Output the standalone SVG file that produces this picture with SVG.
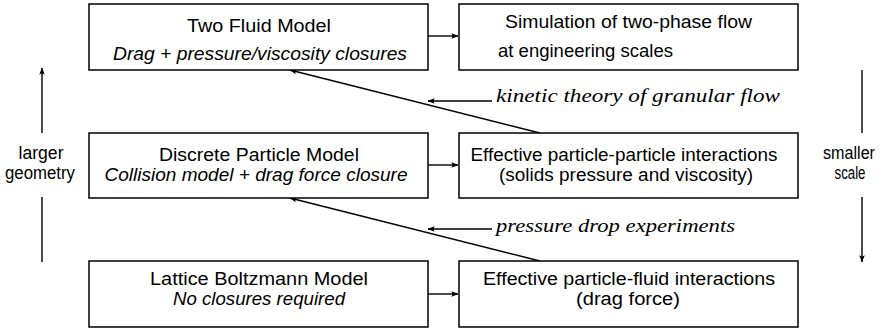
<svg xmlns="http://www.w3.org/2000/svg" width="890" height="331" viewBox="0 0 890 331">
  <style>
    .box { fill: #fff; stroke: #000; stroke-width: 1.5; }
    .t { font-family: "Liberation Sans", Arial, sans-serif; font-size: 17.5px; fill: #000; }
    .c { text-anchor: middle; }
    .i { font-style: italic; }
    .s { font-family: "Liberation Serif", "Times New Roman", serif; font-style: italic; font-size: 19px; fill: #000; }
    .ln { stroke: #000; stroke-width: 1.4; fill: none; marker-end: url(#ah); }
    .plain { stroke: #000; stroke-width: 1.4; fill: none; }
  </style>
  <defs>
    <marker id="ah" viewBox="0 0 10 8" refX="9.5" refY="4" markerWidth="7" markerHeight="5.6" markerUnits="userSpaceOnUse" orient="auto">
      <path d="M0,0 Q3,4 0,8 L10,4 Z" fill="#000"/>
    </marker>
  </defs>
  <rect width="890" height="331" fill="#fff"/>

  <g id="connectors">
    <line class="ln" x1="428" y1="36" x2="458" y2="36"/>
    <line class="ln" x1="428" y1="165" x2="458" y2="165"/>
    <line class="ln" x1="428" y1="294" x2="458" y2="294"/>
    <line class="ln" x1="540" y1="133" x2="290" y2="70"/>
    <line class="ln" x1="540" y1="261" x2="290" y2="198"/>
    <line class="ln" x1="492" y1="101" x2="428" y2="101"/>
    <line class="ln" x1="492" y1="229" x2="428" y2="229"/>
    <line class="ln" x1="42" y1="133" x2="42" y2="68"/>
    <line class="plain" x1="42" y1="197" x2="42" y2="262"/>
    <line class="plain" x1="862" y1="70" x2="862" y2="133"/>
    <line class="ln" x1="862" y1="197" x2="862" y2="262"/>
  </g>

  <g id="two-fluid-model">
    <rect class="box" x="89" y="4" width="339" height="66"/>
    <text class="t c" x="259" y="32" textLength="144" lengthAdjust="spacingAndGlyphs">Two Fluid Model</text>
    <text class="t c i" x="260" y="60" textLength="294" lengthAdjust="spacingAndGlyphs">Drag + pressure/viscosity closures</text>
  </g>

  <g id="simulation">
    <rect class="box" x="459" y="4" width="339" height="66"/>
    <text class="t" x="505" y="28" textLength="247" lengthAdjust="spacingAndGlyphs">Simulation of two-phase flow</text>
    <text class="t" x="498" y="57" textLength="175" lengthAdjust="spacingAndGlyphs">at engineering scales</text>
  </g>

  <g id="discrete-particle-model">
    <rect class="box" x="89" y="133" width="339" height="65"/>
    <text class="t c" x="259" y="161" textLength="200" lengthAdjust="spacingAndGlyphs">Discrete Particle Model</text>
    <text class="t c i" x="256" y="181" textLength="303" lengthAdjust="spacingAndGlyphs">Collision model + drag force closure</text>
  </g>

  <g id="particle-particle">
    <rect class="box" x="459" y="133" width="339" height="65"/>
    <text class="t c" x="624" y="161" textLength="307" lengthAdjust="spacingAndGlyphs">Effective particle-particle interactions</text>
    <text class="t c" x="626" y="181" textLength="254" lengthAdjust="spacingAndGlyphs">(solids pressure and viscosity)</text>
  </g>

  <g id="lattice-boltzmann-model">
    <rect class="box" x="89" y="261" width="339" height="66"/>
    <text class="t c" x="259" y="285" textLength="218" lengthAdjust="spacingAndGlyphs">Lattice Boltzmann Model</text>
    <text class="t c i" x="259" y="305" textLength="172" lengthAdjust="spacingAndGlyphs">No closures required</text>
  </g>

  <g id="particle-fluid">
    <rect class="box" x="459" y="261" width="339" height="66"/>
    <text class="t c" x="629" y="285" textLength="292" lengthAdjust="spacingAndGlyphs">Effective particle-fluid interactions</text>
    <text class="t c" x="628" y="305" textLength="104" lengthAdjust="spacingAndGlyphs">(drag force)</text>
  </g>

  <g id="labels">
    <text class="s" x="496" y="102" textLength="284" lengthAdjust="spacingAndGlyphs">kinetic theory of granular flow</text>
    <text class="s" x="496" y="232" textLength="239" lengthAdjust="spacingAndGlyphs">pressure drop experiments</text>
    <text class="t c" x="41" y="159" textLength="45" lengthAdjust="spacingAndGlyphs">larger</text>
    <text class="t c" x="40" y="179" textLength="70" lengthAdjust="spacingAndGlyphs">geometry</text>
    <text class="t c" x="849" y="159" textLength="52" lengthAdjust="spacingAndGlyphs">smaller</text>
    <text class="t c" x="850" y="179" textLength="31" lengthAdjust="spacingAndGlyphs">scale</text>
  </g>
</svg>
